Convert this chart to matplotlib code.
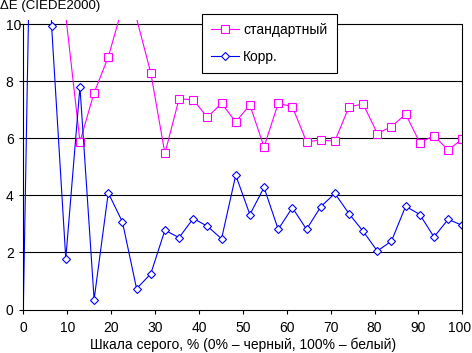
import numpy as np
import matplotlib.pyplot as plt
from matplotlib.transforms import ScaledTranslation

plt.rcParams['font.family'] = ['Liberation Sans', 'DejaVu Sans']

# grey levels, 32 steps from 0 to 100 %
n_steps = 32
gray = np.arange(n_steps) * 100.0 / (n_steps - 1)

# dE values (first ones run off the top of the chart)
standard = [16.0, 14.0, 12.0, 10.3, 5.88, 7.6, 8.85, 10.6, 10.2, 8.3,
            5.47, 7.39, 7.35, 6.74, 7.23, 6.58, 7.17, 5.70, 7.23, 7.11,
            5.88, 5.94, 5.90, 7.11, 7.20, 6.17, 6.41, 6.85, 5.85, 6.09,
            5.59, 5.98]
corr = [0.0, 28.0, 9.93, 1.78, 7.81, 0.35, 4.09, 3.07, 0.73, 1.25,
        2.78, 2.52, 3.19, 2.92, 2.48, 4.71, 3.33, 4.28, 2.81, 3.57,
        2.81, 3.60, 4.07, 3.36, 2.74, 2.05, 2.40, 3.62, 3.33, 2.54,
        3.16, 2.95]

labels = ['стандартный', 'Корр.']
x_ticks = np.arange(0, 101, 10)
y_ticks = np.arange(0, 11, 2)


def visible(vals):
    # markers only for points that lie inside the plot range
    return [i for i, v in enumerate(vals) if 0 < v <= 10]


fig = plt.figure(figsize=(4.72, 3.53), dpi=100)
ax = fig.add_axes([23.3 / 472, 43.5 / 353, 439.0 / 472, 289.5 / 353])

ax.plot(gray, standard, color='#FF00FF', lw=0.8, marker='s', ms=5.8,
        mfc='white', mec='#FF00FF', mew=0.8, markevery=visible(standard),
        label=labels[0])
ax.plot(gray, corr, color='#0000FF', lw=0.8, marker='D', ms=4.2,
        mfc='white', mec='#0000FF', mew=0.8, markevery=visible(corr),
        label=labels[1])

ax.set_xlim(0, 100)
ax.set_ylim(0, 10.15)
ax.set_xticks(x_ticks)
ax.set_yticks(y_ticks)

# black horizontal grid
for v in y_ticks[1:]:
    ax.axhline(v, color='black', lw=0.8, zorder=0.5)

ax.spines['top'].set_visible(False)
ax.spines['left'].set_bounds(0, 10)
ax.spines['right'].set_bounds(0, 10)
for s in ['left', 'right', 'bottom']:
    ax.spines[s].set_linewidth(0.8)
    ax.spines[s].set_color('black')

ax.tick_params(axis='both', direction='out', length=3, width=0.8,
               labelsize=10, colors='black')
ax.tick_params(axis='x', pad=5)
ax.tick_params(axis='y', pad=9.6)
for t in ax.get_yticklabels():
    t.set_horizontalalignment('left')

# keep the "100" label inside the picture
fig.canvas.draw()
last = ax.get_xticklabels()[-1]
last.set_transform(last.get_transform() +
                   ScaledTranslation(-3 / 100, 0, fig.dpi_scale_trans))

ax.set_xlabel('Шкала серого, % (0% – черный, 100% – белый)', fontsize=10,
              labelpad=2)
fig.text(0.0, 1 - 9.0 / 353, 'ΔE (CIEDE2000)', fontsize=9.5, va='baseline',
         ha='left')

leg = ax.legend(loc='upper left', bbox_to_anchor=(202.3 / 472, 1 - 14.0 / 353),
                bbox_transform=fig.transFigure, fontsize=10, frameon=True,
                fancybox=False, borderaxespad=0, borderpad=0.65,
                handlelength=2.0, handletextpad=0.3, labelspacing=0.95)
leg.get_frame().set_edgecolor('black')
leg.get_frame().set_linewidth(0.8)
leg.get_frame().set_alpha(1)

fig.savefig('out.png', dpi=100)
